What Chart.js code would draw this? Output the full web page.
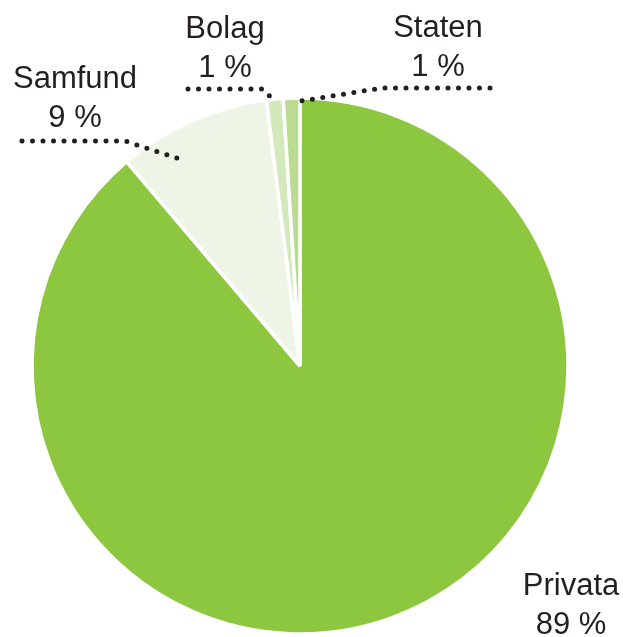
<!DOCTYPE html>
<html>
<head>
<meta charset="utf-8">
<script src="https://cdn.jsdelivr.net/npm/chart.js@4/dist/chart.umd.min.js"></script>
<style>
    html, body { margin: 0; padding: 0; background: #fff; }
    #wrap { width: 623px; height: 637px; }
</style>
</head>
<body>
<div id="wrap"><canvas id="pie" width="623" height="637"></canvas></div>
<script>
// Data
const categories = ['Privata', 'Samfund', 'Bolag', 'Staten'];
const shares = [88.8, 9.2, 1.0, 1.0];
const shareLabels = ['89 %', '9 %', '1 %', '1 %'];

const COLORS = {
    privata: '#8dc63f',
    samfund: '#eef5e6',
    bolag: '#d3e8bb',
    staten: '#bbdb93',
    text: '#231f20',
};

// Label placement: text centre + baselines, and dotted leader path
const LABEL_LAYOUT = {
    Privata: { x: 571, y: 595, leader: null },
    Samfund: { x: 75, y: 88, leader: [[22, 141], [125, 141], [177, 158]] },
    Bolag:   { x: 225, y: 38, leader: [[188, 89], [262, 89], [276, 102]] },
    Staten:  { x: 438, y: 37, leader: [[490, 88], [382, 88], [295, 102]] },
};

const labelPlugin = {
    id: 'pieLabels',
    afterDatasetsDraw(chart) {
        const ctx = chart.ctx;
        ctx.save();

        // dotted leaders
        ctx.strokeStyle = COLORS.text;
        ctx.lineWidth = 5;
        ctx.lineCap = 'round';
        ctx.setLineDash([0, 10.5]);
        categories.forEach(name => {
            const path = LABEL_LAYOUT[name].leader;
            if (!path) return;
            ctx.beginPath();
            path.forEach(([x, y], i) => i ? ctx.lineTo(x, y) : ctx.moveTo(x, y));
            ctx.stroke();
        });
        ctx.setLineDash([]);

        // text
        ctx.fillStyle = COLORS.text;
        ctx.font = '31px "Liberation Sans", Arial, sans-serif';
        ctx.textAlign = 'center';
        ctx.textBaseline = 'alphabetic';
        categories.forEach((name, i) => {
            const pos = LABEL_LAYOUT[name];
            ctx.fillText(name, pos.x, pos.y);
            ctx.fillText(shareLabels[i], pos.x, pos.y + 39);
        });
        ctx.restore();
    },
};

new Chart(document.getElementById('pie'), {
    type: 'pie',
    data: {
        labels: categories,
        datasets: [{
            data: shares,
            backgroundColor: [COLORS.privata, COLORS.samfund, COLORS.bolag, COLORS.staten],
            borderColor: '#ffffff',
            borderWidth: 3.5,
            hoverOffset: 0,
        }],
    },
    options: {
        responsive: false,
        animation: false,
        radius: 268,
        layout: { padding: { left: 32, right: 55, top: 98, bottom: 3 } },
        plugins: {
            legend: { display: false },
            tooltip: { enabled: false },
        },
    },
    plugins: [labelPlugin],
});
</script>
</body>
</html>
